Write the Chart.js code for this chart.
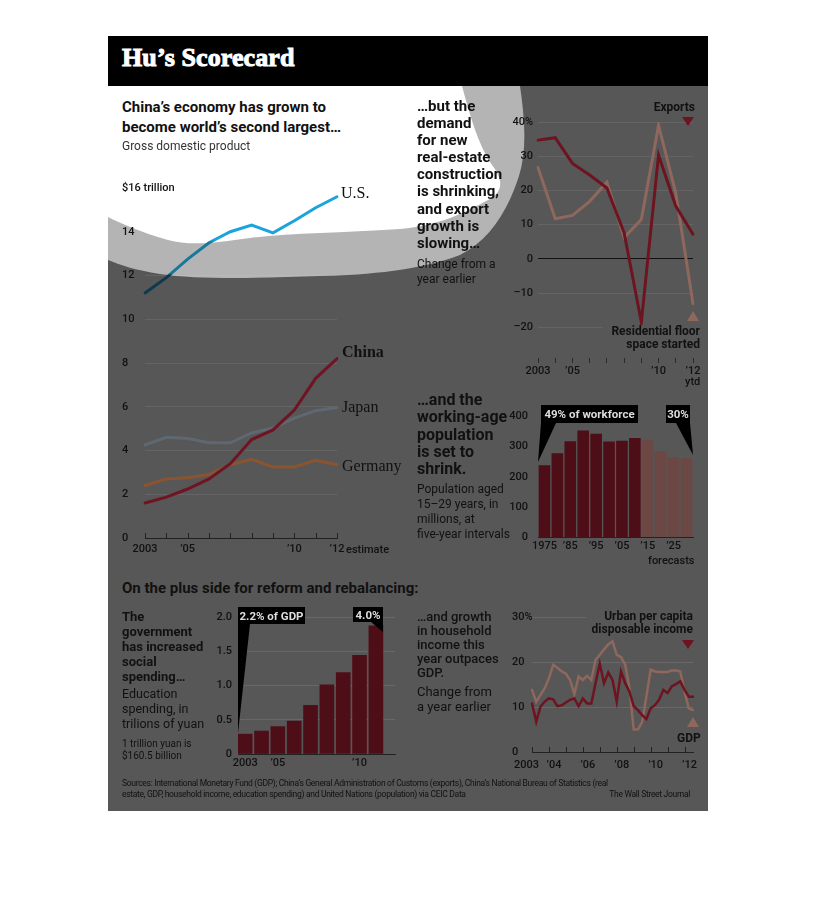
<!DOCTYPE html>
<html>
<head>
<meta charset="utf-8">
<title>Hu’s Scorecard</title>
<script src="https://cdn.jsdelivr.net/npm/chart.js@4.4.0/dist/chart.umd.min.js"></script>
<style>
    body { margin: 0; width: 816px; height: 906px; position: relative; overflow: hidden; background: #fff; font-family: Roboto, sans-serif; color: #111; }
    .abs { position: absolute; }
    #box { left: 108px; top: 36px; width: 600px; height: 775px; background: #575757; }
    #header { left: 108px; top: 36px; width: 600px; height: 50px; background: #000; z-index: 5; }
    #header span { position: absolute; left: 14px; top: 7px; font: bold 26px "Liberation Serif", serif; color: #fff; -webkit-text-stroke: 1px #fff; letter-spacing: 0.1px; }
    canvas { position: absolute; z-index: 2; }
    .t { position: absolute; white-space: nowrap; z-index: 3; }
    .b { font-weight: bold; }
    .serif { font-family: "Liberation Serif", serif; font-size: 16px; line-height: 20px; }
    .tick { font-size: 11px; line-height: 14px; font-weight: 500; }
    svg { position: absolute; }
</style>
</head>
<body>
<div id="box" class="abs"></div>
<svg id="spot" style="left:108px;top:36px;z-index:1" width="600" height="775" viewBox="108 36 600 775">
    <path fill="#b4b4b4" d="M108,86 L520,86 C525,120 527,150 519,176 C508,210 490,240 460,255 C420,270 370,275 320,276 C260,278 200,280 160,274 C135,270 120,265 108,260 Z"/>
    <path fill="#ffffff" d="M108,86 L462,86 C470,115 478,145 492,165 C506,183 501,194 486,201 C462,214 440,225 400,229 C340,233 290,233 250,238 C215,243 190,246 168,240 C140,232 120,223 108,217 Z"/>
</svg>
<div id="header" class="abs"><span>Hu’s Scorecard</span></div>

<canvas id="gdpChart" width="270" height="390" style="left:122px;top:170px"></canvas>
<canvas id="exportChart" width="208" height="280" style="left:500px;top:100px"></canvas>
<canvas id="popChart" width="210" height="155" style="left:490px;top:400px"></canvas>
<canvas id="eduChart" width="200" height="172" style="left:200px;top:600px"></canvas>
<canvas id="incomeChart" width="196" height="172" style="left:512px;top:600px"></canvas>

<div class="t b" style="left:122px;top:97px;font-size:15px;line-height:20px">China’s economy has grown to<br>become world’s second largest…</div>
<div class="t" style="left:122px;top:138px;font-size:12px;line-height:16px;color:#333">Gross domestic product</div>
<div class="t tick" style="left:122px;top:181px">$16 trillion</div>
<div class="t serif" style="left:341px;top:183px">U.S.</div>
<div class="t serif b" style="left:342px;top:342px">China</div>
<div class="t serif" style="left:342px;top:397px">Japan</div>
<div class="t serif" style="left:342px;top:456px">Germany</div>
<div class="t tick" style="left:346px;top:543px">estimate</div>

<div class="t b" style="left:417px;top:98px;font-size:15px;line-height:17.1px">…but the<br>demand<br>for new<br>real-estate<br>construction<br>is shrinking,<br>and export<br>growth is<br>slowing…</div>
<div class="t" style="left:417px;top:257px;font-size:12px;line-height:15px">Change from a<br>year earlier</div>
<div class="t b" style="right:121px;top:100px;font-size:12px;line-height:14px">Exports</div>
<div class="t b" style="right:116px;top:325px;font-size:12px;line-height:13px;text-align:right;background:#575757;padding-left:8px">Residential floor<br>space started</div>
<div class="t tick" style="left:685px;top:375px">ytd</div>

<div class="t b" style="left:417px;top:391px;font-size:16px;line-height:17.3px">…and the<br>working-age<br>population<br>is set to<br>shrink.</div>
<div class="t" style="left:417px;top:482px;font-size:12px;line-height:15px">Population aged<br>15–29 years, in<br>millions, at<br>five-year intervals</div>
<div class="t tick" style="left:648px;top:554px">forecasts</div>

<div class="t b" style="left:122px;top:579px;font-size:15px;line-height:18px">On the plus side for reform and rebalancing:</div>
<div class="t b" style="left:122px;top:609px;font-size:13px;line-height:15px">The<br>government<br>has increased<br>social<br>spending…</div>
<div class="t" style="left:122px;top:686px;font-size:12.5px;line-height:15px">Education<br>spending, in<br>trilions of yuan</div>
<div class="t" style="left:122px;top:738px;font-size:10px;line-height:12px">1 trillion yuan is<br>$160.5 billion</div>

<div class="t" style="left:417px;top:610px;font-size:13px;line-height:14px;font-weight:500">…and growth<br>in household<br>income this<br>year outpaces<br>GDP.</div>
<div class="t" style="left:417px;top:684px;font-size:13px;line-height:15px">Change from<br>a year earlier</div>
<div class="t b" style="right:123px;top:610px;font-size:12px;line-height:13px;text-align:right;background:#575757;padding-left:6px">Urban per capita<br>disposable income</div>
<div class="t b" style="left:677px;top:731px;font-size:12px;line-height:14px">GDP</div>
<div class="t tick" style="left:514px;top:758px">2003</div>

<div class="t" style="left:122px;top:778px;font-size:8.5px;line-height:11px;letter-spacing:-0.3px">Sources: International Monetary Fund (GDP); China’s General Administration of Customs (exports), China’s National Bureau of Statistics (real<br>estate, GDP, household income, education spending) and United Nations (population) via CEIC Data</div>
<div class="t" style="right:126px;top:789px;font-size:8.5px;line-height:11px;letter-spacing:-0.3px">The Wall Street Journal</div>

<svg style="left:0;top:0;z-index:4" width="816" height="906" font-family="Roboto, sans-serif" font-weight="bold" font-size="11.5">
    <rect x="541" y="405" width="97" height="18" fill="#000"/>
    <polygon points="541,423 556,423 538,462" fill="#000"/>
    <text x="589.5" y="418" fill="#ddd" text-anchor="middle">49% of workforce</text>
    <rect x="666" y="405" width="24" height="18" fill="#000"/>
    <polygon points="676,423 690,423 693,455" fill="#000"/>
    <text x="678" y="418" fill="#ddd" text-anchor="middle">30%</text>
    <rect x="238" y="607" width="67" height="17" fill="#000"/>
    <polygon points="238,624 250,624 238,733" fill="#000"/>
    <text x="271.5" y="619.5" fill="#ddd" text-anchor="middle">2.2% of GDP</text>
    <rect x="353" y="607" width="30" height="15" fill="#000"/>
    <polygon points="371,622 383,622 383,632" fill="#000"/>
    <text x="368" y="619" fill="#ddd" text-anchor="middle">4.0%</text>
    <polygon points="682,117 694,117 688,126" fill="#6e1420"/>
    <polygon points="687,321 699,321 693,311" fill="#8f675d"/>
    <polygon points="682,640 694,640 688,649" fill="#6e1420"/>
    <polygon points="687,727 699,727 693,717" fill="#8f675d"/>
</svg>

<script>
// GDP, trillions of dollars
const gdpYears = ['2003', '2004', '2005', '2006', '2007', '2008', '2009', '2010', '2011', '2012'];
const gdpUS = [11.2, 11.9, 12.75, 13.5, 14.0, 14.3, 13.95, 14.5, 15.1, 15.6];
const gdpChina = [1.6, 1.87, 2.24, 2.7, 3.4, 4.5, 4.94, 5.85, 7.3, 8.2];
const gdpJapan = [4.25, 4.6, 4.55, 4.35, 4.35, 4.8, 5.03, 5.48, 5.82, 5.97];
const gdpGermany = [2.4, 2.7, 2.75, 2.9, 3.35, 3.6, 3.25, 3.25, 3.55, 3.35];
const gdpTickNames = { '2003': '2003', '2005': '’05', '2010': '’10', '2012': '’12' };

// exports and residential floor space, % change
const exportYears = ['2003', '2004', '2005', '2006', '2007', '2008', '2009', '2010', '2011', '2012'];
const exportGrowth = [34.7, 35.4, 27.9, 24.5, 20.7, 7.6, -18.5, 30.3, 15.4, 7.2];
const floorSpace = [26.7, 11.7, 12.7, 16.8, 22.4, 6.2, 11.5, 39.0, 19.2, -13.1];
const exportTicks = [-20, -10, 0, 10, 20, 30, 40];
const exportTickNames = { '2003': '2003', '2005': '’05', '2010': '’10', '2012': '’12' };

// population aged 15-29, millions
const popYears = ['1975', '1980', '1985', '1990', '1995', '2000', '2005', '2010', '2015', '2020', '2025', '2030'];
const popValues = [238, 278, 318, 354, 343, 317, 320, 329, 323, 285, 265, 262];
const popTickNames = { '1975': '1975', '1985': '’85', '1995': '’95', '2005': '’05', '2015': '’15', '2025': '’25' };

// education spending, trillions of yuan
const eduYears = [2003, 2004, 2005, 2006, 2007, 2008, 2009, 2010, 2011];
const eduSpend = [0.29, 0.335, 0.40, 0.48, 0.71, 1.01, 1.19, 1.44, 1.87];
const eduTickYears = [2003, 2005, 2010];
const eduTickNames = { 2003: '2003', 2005: '’05', 2010: '’10' };

// quarterly growth, % change
const incomeQuarters = [];
for (let y = 2003; y <= 2012; y++) {
    for (let q = 1; q <= 4; q++) {
        if (y === 2012 && q > 3) break;
        incomeQuarters.push(y + 'Q' + q);
    }
}
const urbanIncome = [10.8, 6.7, 10.1, 11.2, 11.9, 11.7, 10.2, 10.4, 11.0, 11.6, 11.9, 10.2, 11.9, 10.8, 10.8, 15.3,
    19.6, 15.3, 17.7, 16.0, 11.2, 17.9, 15.3, 13.4, 10.2, 9.3, 8.2, 7.3, 9.7, 10.4, 11.6, 13.8, 13.1, 14.6, 15.1, 15.7,
    13.8, 12.3, 12.3];
const gdpGrowth = [13.8, 11.2, 12.7, 14.2, 16.4, 19.4, 18.7, 17.9, 17.4, 16.0, 12.9, 16.8, 16.0, 16.9, 16.0, 20.5,
    21.6, 22.8, 23.9, 24.6, 21.6, 21.1, 19.4, 14.2, 5.0, 5.0, 6.7, 12.3, 18.3, 17.9, 17.8, 17.8, 17.8, 18.1, 18.1, 17.9,
    13.4, 9.7, 9.3];
// 2003 is written beside the axis, so it is left out here
const incomeTickNames = { '2004Q1': '’04', '2006Q1': '’06', '2008Q1': '’08', '2010Q1': '’10', '2012Q1': '’12' };

Chart.defaults.font.family = 'Roboto';
Chart.defaults.font.size = 11;
Chart.defaults.font.weight = '500';
Chart.defaults.color = '#111';
Chart.defaults.animation = false;
Chart.defaults.responsive = false;
Chart.defaults.plugins.legend.display = false;
Chart.defaults.plugins.tooltip.enabled = false;
Chart.defaults.elements.point.radius = 0;
Chart.defaults.elements.line.tension = 0;
Chart.defaults.elements.line.borderCapStyle = 'round';

// small tick marks pointing up into the plot
const innerTicks = {
    id: 'innerTicks',
    afterDraw(chart, args, opts) {
        if (!opts.every) return;
        const x = chart.scales.x;
        const ctx = chart.ctx;
        const bottom = chart.chartArea.bottom;
        ctx.save();
        ctx.strokeStyle = opts.color;
        ctx.lineWidth = 1;
        x.ticks.forEach((t, i) => {
            if (i % opts.every) return;
            const px = Math.round(x.getPixelForTick(i)) + 0.5;
            ctx.beginPath();
            ctx.moveTo(px, bottom);
            ctx.lineTo(px, bottom - opts.len);
            ctx.stroke();
        });
        ctx.restore();
    }
};

// the U.S. line darkens where it leaves the lit area
function usColor(context) {
    const chart = context.chart;
    if (!chart.chartArea) return '#1ba3db';
    const g = chart.ctx.createLinearGradient(0, 0, 0, chart.height);
    g.addColorStop(0, '#1ba3db');
    g.addColorStop(0.18, '#1ba3db');
    g.addColorStop(0.185, '#17789c');
    g.addColorStop(0.265, '#17789c');
    g.addColorStop(0.27, '#0d3a4f');
    g.addColorStop(1, '#0d3a4f');
    return g;
}

const faintGrid = 'rgba(255,255,255,0.08)';

new Chart(document.getElementById('gdpChart'), {
    type: 'line',
    data: {
        labels: gdpYears,
        datasets: [
            { data: gdpUS, borderColor: usColor, borderWidth: 3 },
            { data: gdpChina, borderColor: '#701424', borderWidth: 3 },
            { data: gdpJapan, borderColor: '#5d6872', borderWidth: 3 },
            { data: gdpGermany, borderColor: '#8a5431', borderWidth: 3 }
        ]
    },
    plugins: [innerTicks],
    options: {
        layout: { padding: { top: 18, right: 55 } },
        plugins: { innerTicks: { every: 1, len: 5, color: '#222' } },
        scales: {
            x: {
                offset: false,
                afterFit: s => { s.height = 22; },
                grid: { display: false, drawTicks: false },
                border: { color: '#222' },
                ticks: { autoSkip: false, maxRotation: 0, padding: 5, callback: (v, i) => gdpTickNames[gdpYears[i]] || '' }
            },
            y: {
                min: 0, max: 16,
                afterFit: s => { s.width = 23; },
                grid: { color: faintGrid, drawTicks: false },
                border: { display: false },
                // the top label "$16 trillion" is written beside the axis
                ticks: { stepSize: 2, crossAlign: 'far', padding: 0, callback: v => v === 16 ? '' : v }
            }
        }
    }
});

new Chart(document.getElementById('exportChart'), {
    type: 'line',
    data: {
        labels: exportYears,
        datasets: [
            { data: exportGrowth, borderColor: '#6e1420', borderWidth: 3 },
            { data: floorSpace, borderColor: '#8f675d', borderWidth: 3 }
        ]
    },
    options: {
        layout: { padding: { top: 22, right: 15 } },
        scales: {
            x: {
                offset: false,
                afterFit: s => { s.height = 22; },
                grid: { drawOnChartArea: false, tickLength: 5, color: '#2b2b2b' },
                border: { display: false },
                ticks: { autoSkip: false, maxRotation: 0, padding: 2, callback: (v, i) => exportTickNames[exportYears[i]] || '' }
            },
            y: {
                min: -29, max: 40,
                afterBuildTicks: s => { s.ticks = exportTicks.map(v => ({ value: v })); },
                afterFit: s => { s.width = 38; },
                grid: { drawTicks: false, color: c => (c.tick && c.tick.value === 0) ? '#111' : faintGrid },
                border: { display: false },
                ticks: { padding: 5, callback: v => v === 40 ? '40%' : (v < 0 ? '–' + (-v) : v) }
            }
        }
    }
});

new Chart(document.getElementById('popChart'), {
    type: 'bar',
    data: {
        labels: popYears,
        datasets: [{
            data: popValues,
            backgroundColor: c => Number(popYears[c.dataIndex]) >= 2015 ? '#6b4843' : '#4e0e18',
            barPercentage: 0.9,
            categoryPercentage: 1
        }]
    },
    options: {
        layout: { padding: { top: 16, right: 7 } },
        scales: {
            x: {
                afterFit: s => { s.height = 18; },
                grid: { display: false, drawTicks: false },
                border: { color: '#222' },
                ticks: { autoSkip: false, maxRotation: 0, padding: 3, callback: (v, i) => popTickNames[popYears[i]] || '' }
            },
            y: {
                min: 0, max: 400,
                afterFit: s => { s.width = 48; },
                grid: { display: false, drawTicks: false },
                border: { display: false },
                ticks: { stepSize: 100, padding: 10 }
            }
        }
    }
});

new Chart(document.getElementById('eduChart'), {
    type: 'bar',
    data: {
        datasets: [{
            data: eduYears.map((y, i) => ({ x: y, y: eduSpend[i] })),
            backgroundColor: '#4e0e18',
            barThickness: 14
        }]
    },
    options: {
        layout: { padding: { top: 17, right: 5 } },
        scales: {
            x: {
                type: 'linear', offset: false,
                min: 2002.56, max: 2012.17,
                afterBuildTicks: s => { s.ticks = eduTickYears.map(v => ({ value: v })); },
                afterFit: s => { s.height = 18; },
                grid: { display: false, drawTicks: false },
                border: { color: '#222' },
                ticks: { maxRotation: 0, padding: 3, callback: v => eduTickNames[v] || '' }
            },
            y: {
                min: 0, max: 2,
                afterFit: s => { s.width = 38; },
                grid: { color: 'rgba(255,255,255,0.1)', drawTicks: false },
                border: { display: false },
                ticks: { stepSize: 0.5, padding: 6, callback: v => v === 0 ? '0' : v.toFixed(1) }
            }
        }
    }
});

new Chart(document.getElementById('incomeChart'), {
    type: 'line',
    data: {
        labels: incomeQuarters,
        datasets: [
            { data: urbanIncome, borderColor: '#6e1420', borderWidth: 2.5 },
            { data: gdpGrowth, borderColor: '#8f675d', borderWidth: 2.5 }
        ]
    },
    plugins: [innerTicks],
    options: {
        layout: { padding: { top: 17, right: 15 } },
        plugins: { innerTicks: { every: 4, len: 5, color: '#222' } },
        scales: {
            x: {
                offset: false,
                afterFit: s => { s.height = 20; },
                grid: { display: false, drawTicks: false },
                border: { color: '#222' },
                ticks: { autoSkip: false, maxRotation: 0, padding: 7, labelOffset: 5, callback: (v, i) => incomeTickNames[incomeQuarters[i]] || '' }
            },
            y: {
                min: 0, max: 30,
                afterFit: s => { s.width = 20; },
                grid: { drawTicks: false, color: c => (c.tick && c.tick.value === 0) ? 'rgba(0,0,0,0)' : 'rgba(255,255,255,0.1)' },
                border: { display: false },
                ticks: { stepSize: 10, crossAlign: 'far', padding: 0, callback: v => v === 30 ? '30%' : v }
            }
        }
    }
});
</script>
</body>
</html>
